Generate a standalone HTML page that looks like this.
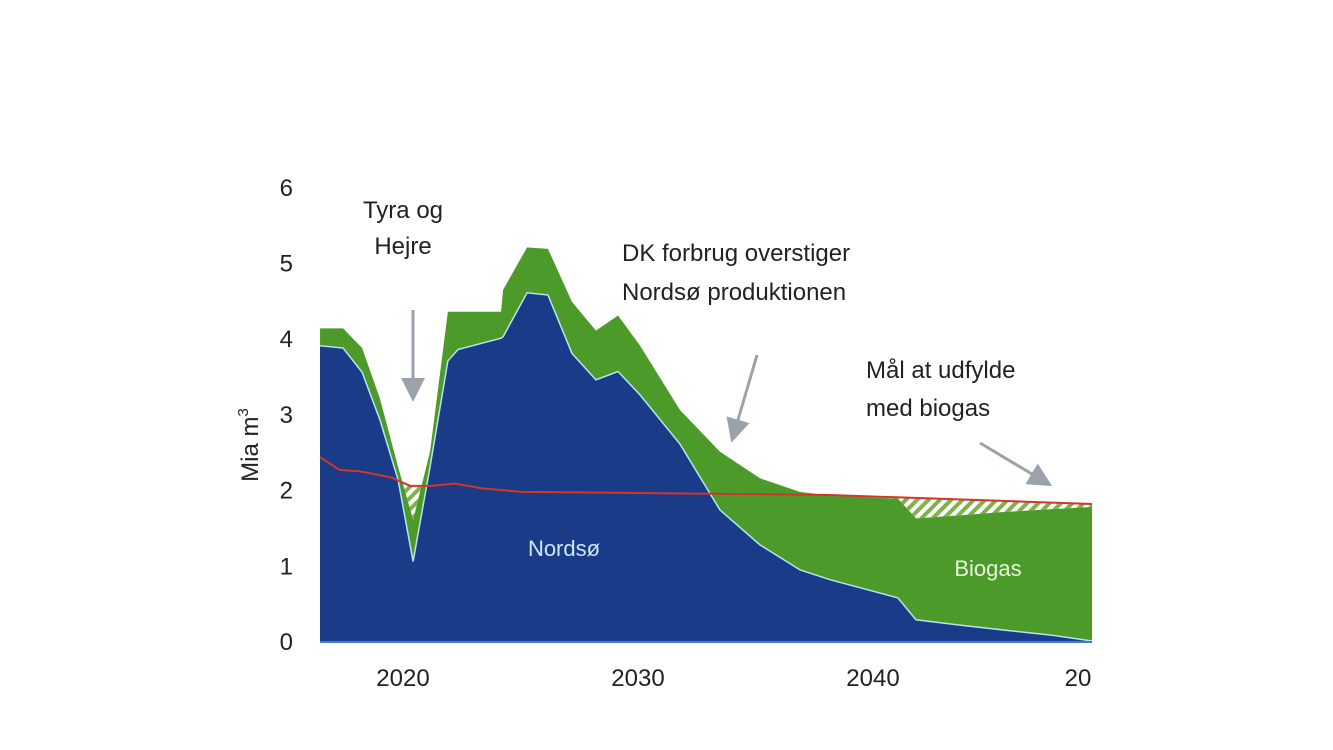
<!DOCTYPE html>
<html><head><meta charset="utf-8">
<style>
body{margin:0;background:#fff;}
svg{display:block;font-family:"Liberation Sans","DejaVu Sans",sans-serif;}
</style></head>
<body>
<svg width="1333" height="750" viewBox="0 0 1333 750">
<defs>
<pattern id="hatch" width="8" height="8" patternUnits="userSpaceOnUse" patternTransform="rotate(45)">
<rect width="8" height="8" fill="#fff"/><rect width="4" height="8" fill="#7fb24a"/>
</pattern>
<marker id="ah" markerWidth="8" markerHeight="8" refX="6" refY="4" orient="auto"><path d="M0,0 L8,4 L0,8 z" fill="#9aa3ab"/></marker>
</defs>
<g id="plot"></g>
<g id="axes"></g>
<text x="403" y="218" font-size="24" text-anchor="middle" fill="#222">Tyra og</text>
<text x="403" y="254" font-size="24" text-anchor="middle" fill="#222">Hejre</text>
<text x="622" y="261" font-size="24" fill="#222">DK forbrug overstiger</text>
<text x="622" y="300" font-size="24" fill="#222">Nordsø produktionen</text>
<text x="866" y="378" font-size="24" fill="#222">Mål at udfylde</text>
<text x="866" y="416" font-size="24" fill="#222">med biogas</text>
<line x1="413" y1="310" x2="413" y2="396" stroke="#9aa3ab" stroke-width="3" marker-end="url(#ah)"/>
<line x1="757" y1="355" x2="733" y2="437" stroke="#9aa3ab" stroke-width="3" marker-end="url(#ah)"/>
<line x1="980" y1="443" x2="1047" y2="483" stroke="#9aa3ab" stroke-width="3" marker-end="url(#ah)"/>
<text x="564" y="556" font-size="22" text-anchor="middle" fill="#cfe6f5">Nordsø</text>
<text x="988" y="576" font-size="22" text-anchor="middle" fill="#e8f5dc">Biogas</text>
<text transform="translate(258,445) rotate(-90)" font-size="24" text-anchor="middle" fill="#222">Mia m<tspan font-size="15" dy="-10">3</tspan></text>
</svg>
<script>
const years=[2016.47,2017.45,2018.26,2019.02,2019.79,2020.43,2021.15,2021.91,2022.34,2024.17,2024.26,2025.28,2026.17,2027.19,2028.21,2029.15,2030.09,2031.79,2033.49,2035.19,2036.89,2038.17,2041.06,2041.83,2043.7,2045.4,2047.53,2049.32];
const totalSupply=[4.13,4.13,3.87,3.2,2.3,1.6,2.5,4.35,4.35,4.35,4.64,5.2,5.18,4.48,4.1,4.3,3.9,3.05,2.5,2.15,1.97,1.92,1.88,1.62,1.66,1.7,1.74,1.77];
const nordso=[3.9,3.87,3.55,2.92,2.13,1.05,2.3,3.7,3.85,4.0,4.02,4.6,4.57,3.8,3.45,3.56,3.25,2.6,1.73,1.27,0.94,0.81,0.57,0.28,0.21,0.15,0.08,0.0];
const demandYears=[2016.47,2017.3,2018.2,2019.5,2020.3,2021.2,2022.2,2023.3,2025,2028.5,2038,2049.32];
const demand=[2.43,2.26,2.24,2.16,2.05,2.05,2.08,2.02,1.97,1.96,1.93,1.81];
const yTicks=[0,1,2,3,4,5,6];
const xTickLabels=["2020","2030","2040","20"];
const xTickYears=[2020,2030,2040,2050];

const NS="http://www.w3.org/2000/svg";
const X=y=>403+(y-2020)*23.5;
const Y=v=>641-v*75.7;
function mk(tag,parent){const e=document.createElementNS(NS,tag);parent.appendChild(e);return e;}
const plot=document.getElementById('plot'), axes=document.getElementById('axes');
function interp(xs,vs,x){for(let i=0;i<xs.length-1;i++){if(x>=xs[i]&&x<=xs[i+1]){return vs[i]+(vs[i+1]-vs[i])*(x-xs[i])/(xs[i+1]-xs[i]);}}return x<xs[0]?vs[0]:vs[vs.length-1];}
const x0=X(years[0]), xN=X(years[years.length-1]);
// hatch: between total and demand where total<demand
let hp=[],hb=[];
for(let yr=years[0];yr<=years[years.length-1]+1e-9;yr+=0.05){const t=interp(years,totalSupply,yr),d=interp(demandYears,demand,yr);hp.push(X(yr)+','+Y(Math.max(t,d)));hb.unshift(X(yr)+','+Y(t));}
const hatch=mk('polygon',plot);hatch.setAttribute('points',hp.concat(hb).join(' '));hatch.setAttribute('fill','url(#hatch)');


// biogas (total) area
let tp=years.map((y,i)=>X(y)+','+Y(totalSupply[i]));
const g=mk('polygon',plot);g.setAttribute('points',[x0+','+Y(0)].concat(tp,[xN+','+Y(0)]).join(' '));g.setAttribute('fill','#4c9a2a');


let np=years.map((y,i)=>X(y)+','+Y(nordso[i]));
const b=mk('polygon',plot);b.setAttribute('points',[x0+','+Y(0)].concat(np,[xN+','+Y(0)]).join(' '));b.setAttribute('fill','#1a3c88');


const bl=mk('polyline',plot);bl.setAttribute('points',np.join(' '));bl.setAttribute('fill','none');bl.setAttribute('stroke','#b9e3f0');bl.setAttribute('stroke-width','1.5');


const rl=mk('polyline',plot);rl.setAttribute('points',demandYears.map((y,i)=>X(y)+','+Y(demand[i])).join(' '));rl.setAttribute('fill','none');rl.setAttribute('stroke','#d2352a');rl.setAttribute('stroke-width','2');


const base=mk('line',axes);base.setAttribute('x1',x0);base.setAttribute('x2',xN);base.setAttribute('y1',Y(0)+1);base.setAttribute('y2',Y(0)+1);base.setAttribute('stroke','#3a7fd0');base.setAttribute('stroke-width','2');


yTicks.forEach(v=>{const t=mk('text',axes);t.setAttribute('x',293);t.setAttribute('y',Y(v)+9);t.setAttribute('font-size','24');t.setAttribute('text-anchor','end');t.setAttribute('fill','#222');t.textContent=v;

});
xTickLabels.forEach((l,i)=>{const t=mk('text',axes);let xx=X(xTickYears[i]);t.setAttribute('x',Math.min(xx,1078));t.setAttribute('y',686);t.setAttribute('font-size','24');t.setAttribute('text-anchor','middle');t.setAttribute('fill','#222');t.textContent=l;

});
</script>
</body></html>
